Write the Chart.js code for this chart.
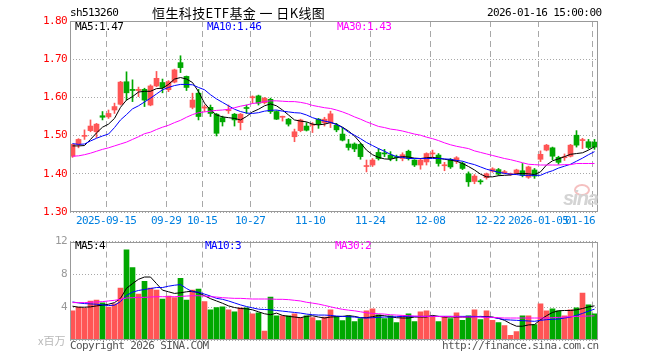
<!DOCTYPE html>
<html><head><meta charset="utf-8">
<script src="https://cdn.jsdelivr.net/npm/chart.js@4.4.1/dist/chart.umd.min.js"></script>
<style>
html,body{margin:0;padding:0;background:#fff;}
#wrap{position:relative;width:660px;height:360px;overflow:hidden;background:#fff;}
canvas{position:absolute;left:0;}
.t{position:absolute;font-family:"DejaVu Sans Mono",monospace;font-size:11px;letter-spacing:-0.6px;line-height:12px;white-space:pre;color:#000;}
.cjk{position:absolute;font-family:"Noto Sans CJK SC",sans-serif;white-space:pre;color:#000;}
</style></head><body>
<div id="wrap">
<canvas id="main" width="660" height="232" style="top:0;width:660px;height:232px"></canvas>
<canvas id="vol" width="660" height="128" style="top:232px;width:660px;height:128px"></canvas>
<div class="t" style="left:70px;top:7px">sh513260</div>
<div class="cjk" style="left:152px;top:5px;font-size:13px;line-height:16px;letter-spacing:0.4px">恒生科技ETF基金 一 日K线图</div>
<div class="t" id="stamp" style="left:487px;top:7px"></div>
<div class="t" id="lg5" style="left:75px;top:21px;color:#000"></div>
<div class="t" id="lg10" style="left:207px;top:21px;color:#0000ff"></div>
<div class="t" id="lg30" style="left:337px;top:21px;color:#ff00ff"></div>
<div class="t" id="vlg5" style="left:75px;top:240px;color:#000"></div>
<div class="t" id="vlg10" style="left:205px;top:240px;color:#0000ff"></div>
<div class="t" id="vlg30" style="left:335px;top:240px;color:#ff00ff"></div>
<div class="t" style="left:70px;top:340px;color:#555">Copyright 2026 SINA.COM</div>
<div class="t" style="left:442px;top:340px;color:#555">http://finance.sina.com.cn</div>
<div class="cjk" style="left:38px;top:333px;font-size:11px;line-height:14px;color:#b8b8b8">x百万</div>
<div style="position:absolute;left:574px;top:184px;width:12px;height:8px;border-radius:50%;border:2px solid #f5c0c0;"></div>
<div style="position:absolute;left:563px;top:188px;font:italic bold 20px 'Liberation Sans',sans-serif;line-height:20px;letter-spacing:-1.5px;color:#d4d4d4;">sina</div>
</div>
<script>
const dates = [
'2025-09-05','2025-09-08','2025-09-09','2025-09-10','2025-09-11','2025-09-12','2025-09-15','2025-09-16','2025-09-17','2025-09-18',
'2025-09-19','2025-09-22','2025-09-23','2025-09-24','2025-09-25','2025-09-26','2025-09-29','2025-09-30','2025-10-09','2025-10-10',
'2025-10-13','2025-10-14','2025-10-15','2025-10-16','2025-10-17','2025-10-20','2025-10-21','2025-10-22','2025-10-23','2025-10-24',
'2025-10-27','2025-10-28','2025-10-29','2025-10-30','2025-10-31','2025-11-03','2025-11-04','2025-11-05','2025-11-06','2025-11-07',
'2025-11-10','2025-11-11','2025-11-12','2025-11-13','2025-11-14','2025-11-17','2025-11-18','2025-11-19','2025-11-20','2025-11-21',
'2025-11-24','2025-11-25','2025-11-26','2025-11-27','2025-11-28','2025-12-01','2025-12-02','2025-12-03','2025-12-04','2025-12-05',
'2025-12-08','2025-12-09','2025-12-10','2025-12-11','2025-12-12','2025-12-15','2025-12-16','2025-12-17','2025-12-18','2025-12-19',
'2025-12-22','2025-12-23','2025-12-24','2025-12-25','2025-12-26','2025-12-29','2025-12-30','2025-12-31','2026-01-05','2026-01-06',
'2026-01-07','2026-01-08','2026-01-09','2026-01-12','2026-01-13','2026-01-14','2026-01-15','2026-01-16'];

const openP = [
1.446,1.477,1.498,1.513,1.510,1.552,1.549,1.567,1.582,1.641,
1.621,1.618,1.621,1.580,1.630,1.639,1.620,1.640,1.691,1.655,
1.574,1.611,1.572,1.574,1.556,1.547,1.565,1.556,1.534,1.573,
1.599,1.604,1.586,1.595,1.563,1.548,1.543,1.497,1.513,1.525,
1.527,1.543,1.534,1.534,1.527,1.504,1.478,1.478,1.477,1.419,
1.423,1.456,1.454,1.449,1.444,1.440,1.459,1.436,1.423,1.431,
1.452,1.449,1.421,1.438,1.433,1.427,1.400,1.380,1.381,1.390,
1.407,1.411,1.403,1.398,1.401,1.408,1.391,1.410,1.438,1.462,
1.468,1.443,1.442,1.446,1.501,1.487,1.484,1.483];
const highP = [
1.478,1.492,1.515,1.541,1.532,1.563,1.567,1.585,1.642,1.667,
1.646,1.627,1.624,1.633,1.668,1.648,1.644,1.674,1.709,1.656,
1.611,1.621,1.580,1.580,1.558,1.551,1.580,1.558,1.558,1.580,
1.604,1.606,1.600,1.598,1.565,1.551,1.545,1.517,1.543,1.534,
1.534,1.545,1.548,1.564,1.532,1.521,1.490,1.481,1.480,1.436,
1.440,1.466,1.464,1.458,1.449,1.455,1.462,1.437,1.440,1.455,
1.462,1.453,1.430,1.440,1.445,1.431,1.405,1.398,1.385,1.402,
1.416,1.414,1.409,1.402,1.412,1.427,1.420,1.414,1.460,1.477,
1.470,1.446,1.452,1.477,1.513,1.493,1.490,1.490];
const lowP = [
1.443,1.468,1.490,1.510,1.495,1.541,1.545,1.558,1.580,1.593,
1.589,1.602,1.576,1.578,1.628,1.612,1.615,1.638,1.665,1.618,
1.570,1.541,1.563,1.550,1.499,1.525,1.558,1.525,1.515,1.558,
1.585,1.580,1.583,1.558,1.542,1.538,1.525,1.484,1.510,1.512,
1.508,1.519,1.525,1.521,1.510,1.486,1.462,1.458,1.438,1.405,
1.419,1.436,1.445,1.434,1.434,1.434,1.436,1.419,1.412,1.423,
1.443,1.420,1.408,1.414,1.427,1.411,1.367,1.374,1.373,1.386,
1.404,1.396,1.400,1.396,1.399,1.392,1.388,1.388,1.432,1.460,
1.437,1.425,1.435,1.444,1.470,1.466,1.465,1.464];
const closeP = [
1.477,1.490,1.500,1.525,1.530,1.548,1.558,1.576,1.640,1.612,
1.618,1.621,1.593,1.630,1.650,1.626,1.641,1.672,1.678,1.626,
1.593,1.550,1.575,1.558,1.506,1.536,1.568,1.541,1.556,1.571,
1.601,1.585,1.598,1.563,1.543,1.550,1.530,1.510,1.541,1.514,
1.529,1.530,1.543,1.557,1.515,1.488,1.469,1.465,1.445,1.421,
1.436,1.440,1.452,1.440,1.442,1.450,1.440,1.423,1.436,1.453,
1.454,1.427,1.423,1.418,1.442,1.414,1.379,1.394,1.379,1.400,
1.413,1.399,1.405,1.400,1.410,1.396,1.418,1.394,1.451,1.475,
1.446,1.430,1.444,1.475,1.475,1.489,1.469,1.470];

const ma5 = [
1.473,1.473,1.474,1.490,1.507,1.522,1.530,1.545,1.574,1.593,
1.602,1.614,1.616,1.616,1.623,1.624,1.634,1.648,1.652,1.648,
1.639,1.615,1.585,1.567,1.554,1.549,1.547,1.545,1.541,1.550,
1.562,1.569,1.578,1.583,1.578,1.567,1.554,1.541,1.538,1.536,
1.530,1.528,1.530,1.534,1.530,1.522,1.512,1.499,1.481,1.462,
1.450,1.443,1.439,1.438,1.442,1.445,1.444,1.441,1.440,1.442,
1.443,1.441,1.438,1.436,1.433,1.427,1.419,1.410,1.399,1.392,
1.392,1.395,1.396,1.397,1.400,1.401,1.400,1.398,1.405,1.423,
1.434,1.439,1.445,1.451,1.453,1.455,1.462,1.471];
const ma10 = [
1.479,1.477,1.478,1.486,1.493,1.499,1.504,1.521,1.541,1.555,
1.570,1.578,1.588,1.598,1.609,1.620,1.626,1.631,1.634,1.634,
1.633,1.626,1.620,1.607,1.596,1.587,1.578,1.569,1.563,1.559,
1.558,1.560,1.564,1.566,1.567,1.564,1.562,1.560,1.559,1.554,
1.547,1.542,1.538,1.535,1.529,1.521,1.509,1.501,1.492,1.482,
1.474,1.466,1.459,1.451,1.445,1.443,1.440,1.440,1.440,1.440,
1.440,1.440,1.439,1.438,1.435,1.433,1.428,1.424,1.418,1.412,
1.408,1.404,1.401,1.399,1.398,1.396,1.396,1.396,1.396,1.403,
1.408,1.415,1.420,1.425,1.433,1.441,1.450,1.458];
const ma30 = [
1.446,1.447,1.450,1.454,1.459,1.464,1.468,1.473,1.478,1.483,
1.490,1.497,1.505,1.509,1.516,1.522,1.527,1.534,1.540,1.548,
1.555,1.560,1.562,1.564,1.566,1.567,1.569,1.573,1.577,1.580,
1.584,1.586,1.589,1.591,1.591,1.590,1.589,1.589,1.587,1.584,
1.579,1.576,1.573,1.571,1.567,1.562,1.556,1.549,1.543,1.536,
1.530,1.524,1.521,1.517,1.515,1.512,1.508,1.504,1.501,1.496,
1.492,1.487,1.481,1.476,1.472,1.469,1.466,1.460,1.456,1.452,
1.448,1.444,1.440,1.437,1.433,1.429,1.425,1.424,1.423,1.423,
1.423,1.423,1.424,1.424,1.427,1.427,1.427,1.427];

const volume = [
3.56,4.00,3.88,4.76,4.88,4.52,4.00,4.40,6.32,11.00,
8.84,5.60,7.16,6.32,6.08,5.00,5.36,5.16,7.52,4.88,
6.08,6.20,4.68,3.68,3.96,4.04,3.68,3.44,3.92,3.92,
3.20,3.32,1.08,5.24,2.96,2.96,2.96,3.20,2.72,2.96,
2.72,2.36,2.80,3.68,2.88,2.36,2.96,2.24,2.60,3.56,
3.80,3.08,2.60,2.96,2.12,2.96,3.20,2.24,3.44,3.56,
2.96,2.24,2.84,2.60,3.32,2.40,2.96,3.68,2.48,3.56,
2.40,2.12,1.76,0.56,1.04,2.96,2.96,1.88,4.40,3.56,
3.80,3.56,2.96,3.68,3.92,5.72,4.28,3.20];
const vma5 = [
4.12,4.00,4.00,4.04,4.16,4.24,4.36,4.56,5.08,6.30,
6.88,7.40,7.68,7.68,6.88,6.08,5.88,5.68,5.76,5.88,
5.96,5.76,5.40,5.04,4.76,4.48,4.16,3.96,3.84,3.80,
3.68,3.44,3.20,3.08,3.28,3.00,2.88,2.80,2.72,2.88,
2.96,2.80,2.68,2.80,2.84,2.88,2.96,2.88,2.72,2.72,
2.84,3.00,2.96,2.84,2.72,2.68,2.68,2.80,2.80,2.80,
3.00,2.88,2.80,2.80,2.80,2.80,2.80,2.84,2.88,2.84,
2.80,2.64,2.40,2.00,1.68,1.68,1.84,1.88,2.48,2.96,
3.36,3.56,3.60,3.60,3.68,3.84,4.04,4.16];
const vma10 = [
4.64,4.52,4.44,4.40,4.36,4.28,4.20,4.24,4.68,5.44,
5.84,6.04,6.16,6.28,6.40,6.40,6.56,6.68,6.76,6.28,
5.88,5.84,5.60,5.36,5.08,4.96,4.76,4.52,4.28,4.08,
3.92,3.76,3.72,3.68,3.60,3.52,3.44,3.36,3.28,3.16,
3.08,3.04,3.04,3.00,2.92,2.88,2.84,2.80,2.72,2.68,
2.72,2.76,2.80,2.80,2.84,2.88,2.88,2.88,2.88,2.88,
2.88,2.88,2.88,2.88,2.88,2.88,2.88,2.88,2.84,2.80,
2.76,2.64,2.48,2.44,2.40,2.36,2.32,2.28,2.40,2.48,
2.52,2.56,2.68,2.80,3.00,3.24,3.52,3.76];
const vma30 = [
4.56,4.56,4.56,4.60,4.64,4.68,4.76,4.84,4.96,5.12,
5.16,5.20,5.20,5.24,5.28,5.28,5.28,5.28,5.32,5.36,
5.40,5.40,5.36,5.28,5.24,5.16,5.12,5.08,5.08,5.04,
5.00,5.00,5.00,5.00,4.96,4.96,4.92,4.84,4.76,4.60,
4.50,4.38,4.22,4.05,3.88,3.74,3.64,3.56,3.44,3.32,
3.24,3.20,3.16,3.08,3.04,3.00,2.96,2.92,2.88,2.88,
2.88,2.88,2.88,2.88,2.84,2.80,2.80,2.80,2.80,2.76,
2.76,2.72,2.68,2.68,2.68,2.68,2.68,2.68,2.68,2.68,
2.72,2.76,2.80,2.84,2.88,2.90,2.92,2.95];

const xTickDates = ['2025-09-15','2025-09-29','2025-10-15','2025-10-27','2025-11-10','2025-11-24','2025-12-08','2025-12-22','2026-01-05','2026-01-16'];
const xTickTexts = ['2025-09-15','09-29','10-15','10-27','11-10','11-24','12-08','12-22','2026-01-05','01-16'];
const priceTicks = [1.30,1.40,1.50,1.60,1.70,1.80];
const volTicks = [0,4,8,12];

const RED = '#ff5555', GREEN = '#00a800';
const MONO = '"DejaVu Sans Mono", monospace';
const n = dates.length;
const up = closeP.map((c,i)=> c >= openP[i]);
const candleColors = up.map(u => u ? RED : GREEN);
const tickIdx = xTickDates.map(d => dates.indexOf(d));
const GRID_SHIFT = 0.4;
const X_MIN = -0.4167, X_MAX = X_MIN + 527/6;

document.getElementById('stamp').textContent = dates[n-1] + ' 15:00:00';
document.getElementById('lg5').textContent = 'MA5:' + ma5[n-1].toFixed(2);
document.getElementById('lg10').textContent = 'MA10:' + ma10[n-1].toFixed(2);
document.getElementById('lg30').textContent = 'MA30:' + ma30[n-1].toFixed(2);
document.getElementById('vlg5').textContent = 'MA5:' + Math.floor(vma5[n-1]);
document.getElementById('vlg10').textContent = 'MA10:' + Math.floor(vma10[n-1]);
document.getElementById('vlg30').textContent = 'MA30:' + Math.floor(vma30[n-1]);

const frame = {
  id: 'frame',
  beforeDraw(chart){ chart.ctx.letterSpacing = '-0.6px'; },
  afterDraw(chart){
    const a = chart.chartArea, ctx = chart.ctx;
    ctx.save();
    ctx.strokeStyle = '#999'; ctx.lineWidth = 1; ctx.setLineDash([]);
    ctx.strokeRect(Math.round(a.left)+0.5, Math.round(a.top)+0.5, Math.round(a.right-a.left), Math.round(a.bottom-a.top)-1);
    ctx.restore();
  }
};

function lineDs(vals, color){
  return {type:'line', data: vals.map((v,i)=>({x:i,y:v})), borderColor:color, borderWidth:1,
    pointRadius:0, tension:0, fill:false, order:0};
}
function xScale(showLabels){
  return {
    type:'linear', min:X_MIN, max:X_MAX, offset:false,
    afterBuildTicks: s => { s.ticks = tickIdx.map(i => ({value: i - GRID_SHIFT})); },
    afterFit: s => { s.height = 20; },
    grid:{offset:false, color:'#a8a8a8', drawTicks:false, lineWidth:1},
    border:{display:false, dash:[6,4]},
    ticks:{display:showLabels, autoSkip:false, maxRotation:0, minRotation:0, padding:3,
      color:'#0080e0', font:{family:MONO, size:11},
      callback: v => { const i = Math.round(v + GRID_SHIFT); const k = tickIdx.indexOf(i);
        if (k < 0) return ''; return xTickTexts[k] + (i === n-1 ? '    ' : ''); }}
  };
}

new Chart(document.getElementById('main'), {
  type:'bar',
  data:{datasets:[
    {label:'wick', data: dates.map((d,i)=>({x:i, y:[lowP[i], highP[i]]})), backgroundColor:candleColors,
      barThickness:1, grouped:false, order:2},
    {label:'body', data: dates.map((d,i)=>({x:i, y:[openP[i], closeP[i]]})), backgroundColor:candleColors,
      barThickness:5, grouped:false, minBarLength:1, order:1},
    lineDs(ma30,'#ff00ff'), lineDs(ma10,'#0000ff'), lineDs(ma5,'#000000')
  ]},
  options:{
    responsive:false, animation:false, devicePixelRatio:1,
    layout:{padding:{top:21, right:63, left:0, bottom:0}},
    plugins:{legend:{display:false}, tooltip:{enabled:false}},
    scales:{
      x: xScale(true),
      y:{min:1.3, max:1.8,
        afterBuildTicks: s => { s.ticks = priceTicks.map(v => ({value:v})); },
        afterFit: s => { s.width = 70; },
        grid:{color:'#a8a8a8', drawTicks:false},
        border:{display:false, dash:[1,2]},
        ticks:{color:'#ff0000', padding:3, font:{family:MONO, size:11}, callback: v => Number(v).toFixed(2)}}
    }
  },
  plugins:[frame]
});

new Chart(document.getElementById('vol'), {
  type:'bar',
  data:{datasets:[
    {label:'vol', data: volume.map((v,i)=>({x:i, y:v})), backgroundColor:candleColors,
      barThickness:5, grouped:false, order:1},
    lineDs(vma30,'#ff00ff'), lineDs(vma10,'#0000ff'), lineDs(vma5,'#000000')
  ]},
  options:{
    responsive:false, animation:false, devicePixelRatio:1,
    layout:{padding:{top:9, right:63, left:0, bottom:0}},
    plugins:{legend:{display:false}, tooltip:{enabled:false}},
    scales:{
      x: xScale(false),
      y:{min:0, max:12,
        afterBuildTicks: s => { s.ticks = volTicks.map(v => ({value:v})); },
        afterFit: s => { s.width = 70; },
        grid:{color:'#a8a8a8', drawTicks:false},
        border:{display:false, dash:[1,2]},
        ticks:{color:'#999999', padding:3, font:{family:MONO, size:11}, callback: v => v === 0 ? '' : String(v)}}
    }
  },
  plugins:[frame]
});
</script>
</body></html>
